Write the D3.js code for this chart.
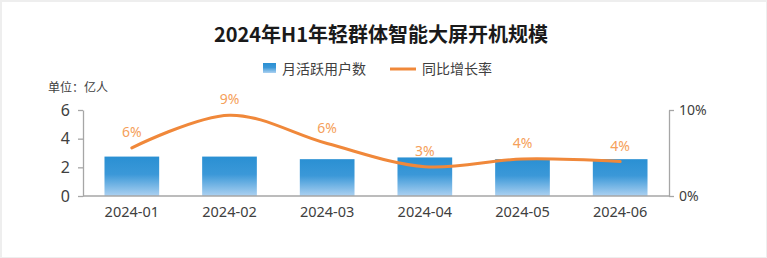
<!DOCTYPE html>
<html>
<head>
<meta charset="utf-8">
<script src="https://cdn.jsdelivr.net/npm/d3@7"></script>
<style>
    html, body { margin: 0; padding: 0; background: #eeeeee; }
    #chart { width: 767px; height: 258px; }
    text { font-family: "Noto Sans CJK SC", "Noto Sans", sans-serif; }
</style>
</head>
<body>
<div id="chart"></div>
<script>
// data
let months = ["2024-01", "2024-02", "2024-03", "2024-04", "2024-05", "2024-06"];
let activeUsers = [2.75, 2.75, 2.57, 2.69, 2.57, 2.57];      // 亿人
let growthRate = [0.056, 0.094, 0.061, 0.034, 0.043, 0.040];  // 同比
let leftTicks = [0, 2, 4, 6];
let rightTicks = [0, 0.1];

let titleText = "2024年H1年轻群体智能大屏开机规模";
let legendNames = ["月活跃用户数", "同比增长率"];
let unitText = "单位：亿人";

let W = 767, H = 258;
let margin = {top: 110, right: 98, bottom: 62, left: 83};
let width = W - margin.left - margin.right;
let height = H - margin.top - margin.bottom;

let svg = d3.select("#chart").append("svg")
    .attr("width", W)
    .attr("height", H);

// white card
svg.append("rect")
    .attr("x", 2).attr("y", 2)
    .attr("width", 764).attr("height", 255)
    .attr("fill", "#ffffff");

// gradient for bars
let grad = svg.append("defs").append("linearGradient")
    .attr("id", "barGrad")
    .attr("x1", 0).attr("y1", 0).attr("x2", 0).attr("y2", 1);
grad.append("stop").attr("offset", "0%").attr("stop-color", "#2a90d3");
grad.append("stop").attr("offset", "45%").attr("stop-color", "#3b98d8");
grad.append("stop").attr("offset", "100%").attr("stop-color", "#acd1f1");

// title
svg.append("text")
    .attr("x", 381).attr("y", 42)
    .attr("text-anchor", "middle")
    .attr("font-size", 20)
    .attr("font-weight", "bold")
    .attr("fill", "#1a1a1a")
    .text(titleText);

// legend
let legend = svg.append("g").attr("class", "legend");
legend.append("rect")
    .attr("x", 263).attr("y", 63)
    .attr("width", 13).attr("height", 10)
    .attr("fill", "url(#barGrad)");
legend.append("text")
    .attr("x", 282).attr("y", 74)
    .attr("font-size", 14)
    .attr("fill", "#404040")
    .text(legendNames[0]);
legend.append("line")
    .attr("x1", 390).attr("x2", 416)
    .attr("y1", 69).attr("y2", 69)
    .attr("stroke", "#f0883a")
    .attr("stroke-width", 3);
legend.append("text")
    .attr("x", 422).attr("y", 74)
    .attr("font-size", 14)
    .attr("fill", "#404040")
    .text(legendNames[1]);

// unit
svg.append("text")
    .attr("x", 48).attr("y", 92)
    .attr("font-size", 12)
    .attr("fill", "#404040")
    .text(unitText);

let g = svg.append("g")
    .attr("transform", "translate(" + margin.left + "," + margin.top + ")");

// scales
let x = d3.scaleBand().domain(months).range([0, width]).paddingInner(0.44).paddingOuter(0.22);
let y = d3.scaleLinear().domain([0, 6]).range([height, 0]);
let y2 = d3.scaleLinear().domain([0, 0.1]).range([height, 0]);

// bars
g.selectAll(".bar")
    .data(months)
    .enter().append("rect")
    .attr("class", "bar")
    .attr("x", d => x(d))
    .attr("y", (d, i) => y(activeUsers[i]))
    .attr("width", x.bandwidth())
    .attr("height", (d, i) => height - y(activeUsers[i]))
    .attr("fill", "url(#barGrad)");

// axes
let styleAxis = function (sel) {
    sel.selectAll("path").attr("stroke", "#a6a6a6").attr("stroke-width", 1.3);
    sel.selectAll("line").attr("stroke", "#a6a6a6").attr("stroke-width", 1.3);
    sel.selectAll("text")
        .attr("fill", "#404040")
        .style("font-family", "'Noto Sans', sans-serif");
};

let xAxis = g.append("g")
    .attr("transform", "translate(0," + height + ")")
    .call(d3.axisBottom(x).tickSize(0).tickPadding(11));
styleAxis(xAxis);
xAxis.select(".domain").attr("d", "M0,0H" + width);
xAxis.selectAll("text").attr("font-size", 14.5);

let yAxis = g.append("g")
    .call(d3.axisLeft(y).tickValues(leftTicks).tickFormat(d3.format("d")).tickSize(5).tickSizeOuter(0).tickPadding(8));
styleAxis(yAxis);
yAxis.selectAll("text").attr("font-size", 16);

let yAxis2 = g.append("g")
    .attr("transform", "translate(" + width + ",0)")
    .call(d3.axisRight(y2).tickValues(rightTicks).tickFormat(d3.format(".0%")).tickSize(5).tickSizeOuter(0).tickPadding(5));
styleAxis(yAxis2);
yAxis2.selectAll("text").attr("font-size", 14);

// growth line
let cx = d => x(d) + x.bandwidth() / 2;
let line = d3.line()
    .curve(d3.curveCatmullRom.alpha(0.5))
    .x(d => cx(d))
    .y((d, i) => y2(growthRate[i]));

g.append("path")
    .datum(months)
    .attr("d", line)
    .attr("fill", "none")
    .attr("stroke", "#f0883a")
    .attr("stroke-width", 3)
    .attr("stroke-linecap", "round");

// line labels
g.selectAll(".rate-label")
    .data(months)
    .enter().append("text")
    .attr("class", "rate-label")
    .attr("x", d => cx(d))
    .attr("y", (d, i) => y2(growthRate[i]) - 11)
    .attr("text-anchor", "middle")
    .attr("font-size", 14)
    .attr("fill", "#f5a05a")
    .style("font-family", "'Noto Sans', sans-serif")
    .text((d, i) => Math.round(growthRate[i] * 100) + "%");
</script>
</body>
</html>
